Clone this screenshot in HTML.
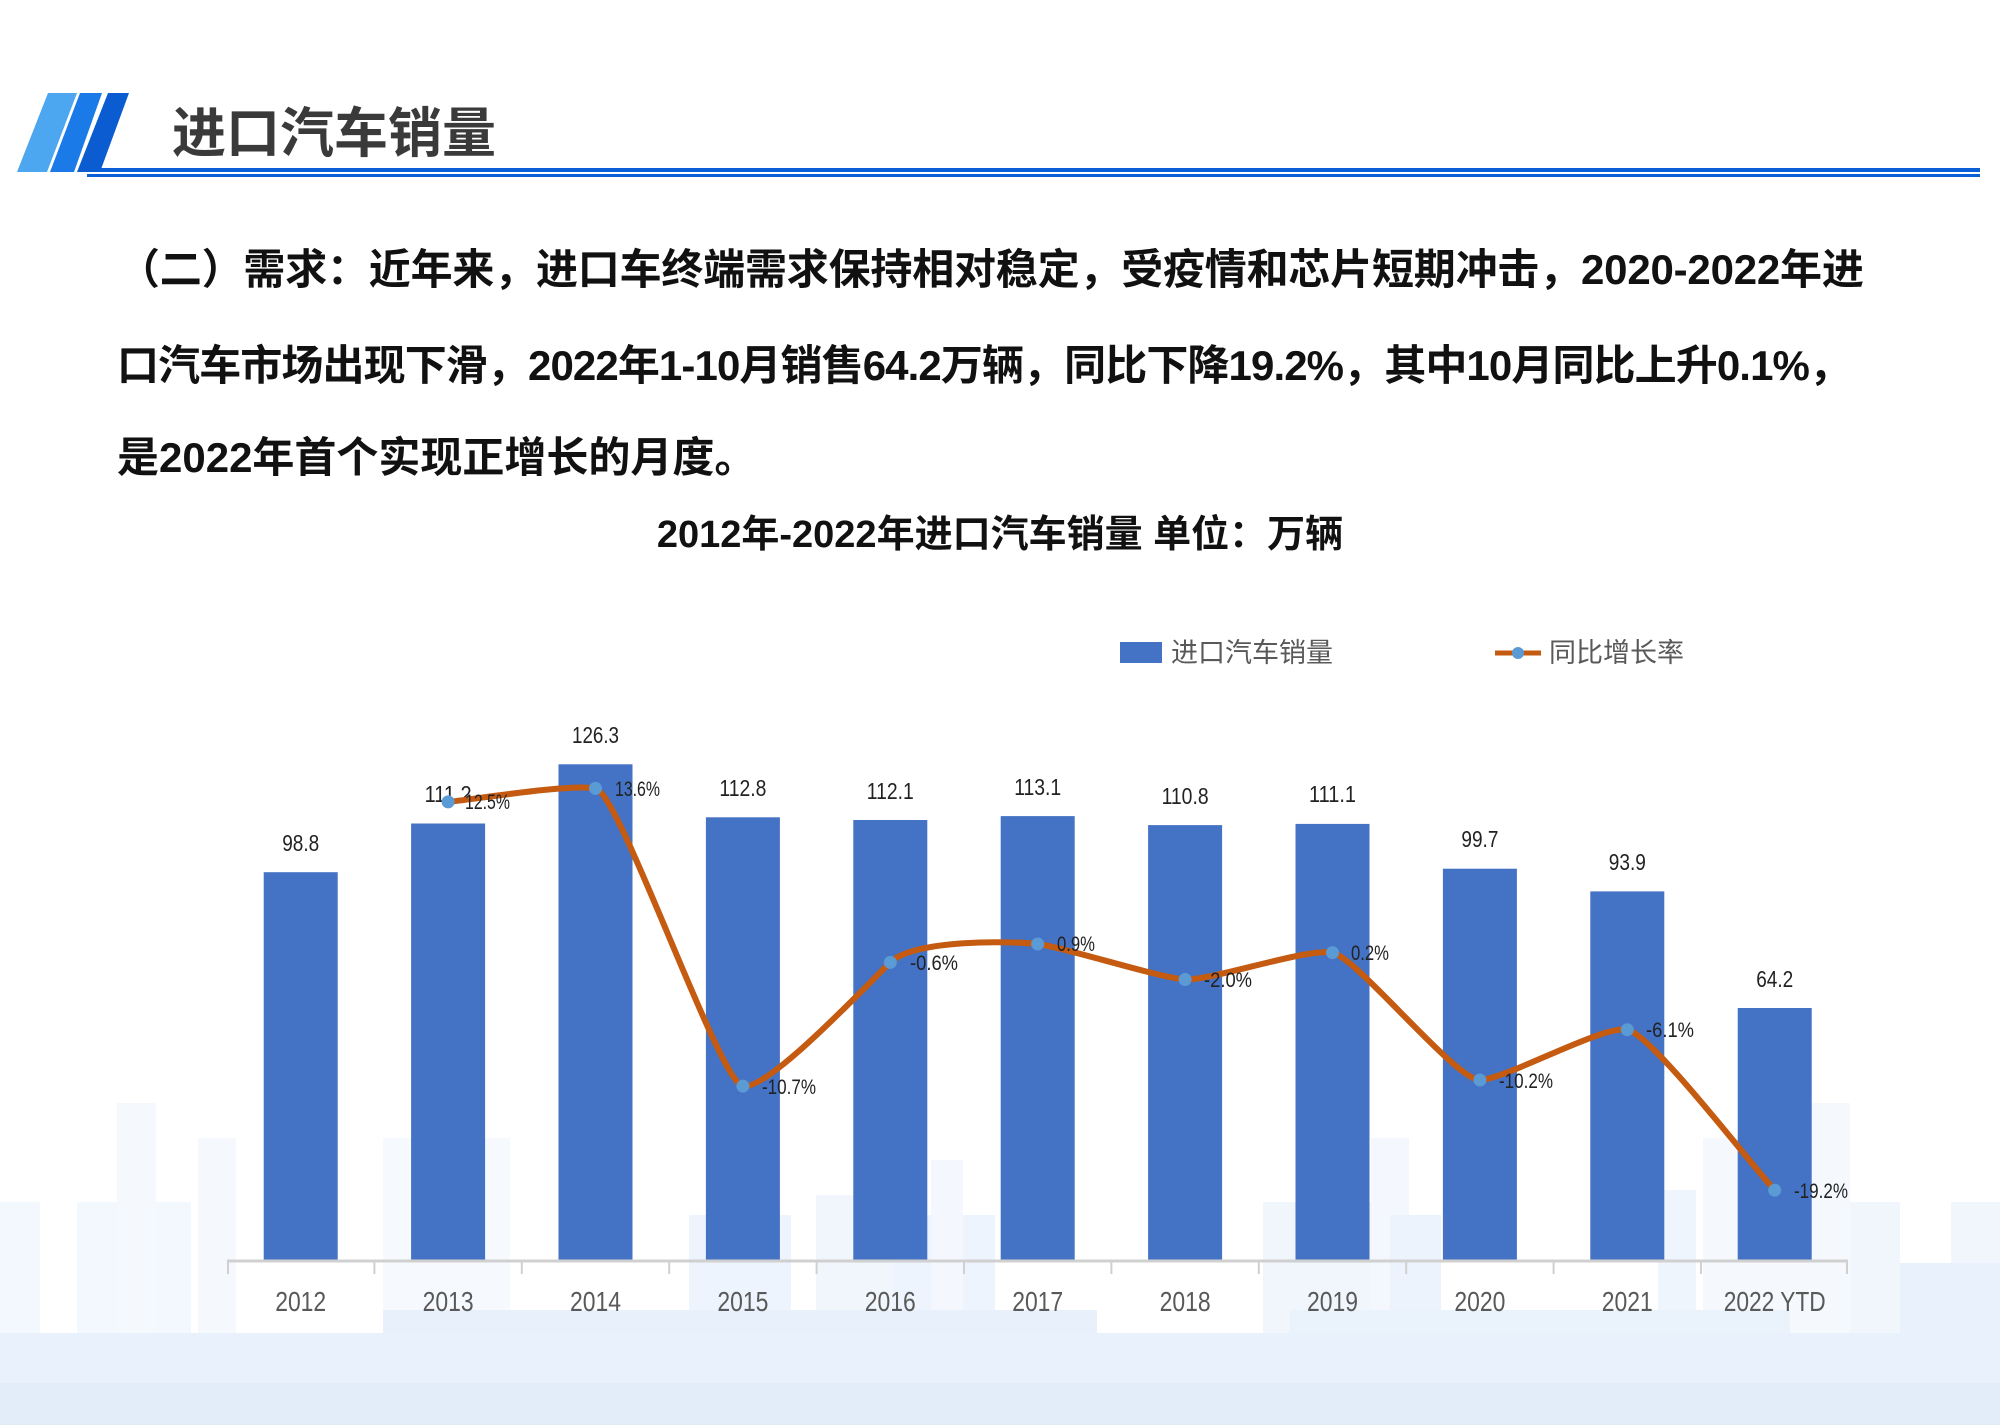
<!DOCTYPE html>
<html><head><meta charset="utf-8"><style>
html,body{margin:0;padding:0;background:#fff;}
body{width:2000px;height:1425px;position:relative;overflow:hidden;}
.p{position:absolute;left:0;white-space:nowrap;font-family:"Liberation Sans","Noto Sans CJK SC",sans-serif;font-weight:700;font-size:42px;color:#111;}
</style></head><body>
<svg width="2000" height="1425" style="position:absolute;left:0;top:0" xmlns="http://www.w3.org/2000/svg">
<g>
<rect x="0" y="1202" width="40" height="223" fill="#f3f8fe"/>
<rect x="77" y="1202" width="114" height="223" fill="#f3f8fe"/>
<rect x="117" y="1103" width="39" height="322" fill="#f5f9fe"/>
<rect x="198" y="1138" width="38" height="287" fill="#f5f9fe"/>
<rect x="383" y="1138" width="127" height="287" fill="#f6faff"/>
<rect x="689" y="1215" width="102" height="210" fill="#edf4fd"/>
<rect x="816" y="1195" width="77" height="230" fill="#f1f6fd"/>
<rect x="893" y="1215" width="102" height="210" fill="#edf4fd"/>
<rect x="931" y="1160" width="32" height="265" fill="#f4f8fe"/>
<rect x="1263" y="1202" width="146" height="223" fill="#f1f6fd"/>
<rect x="1371" y="1138" width="38" height="287" fill="#f4f8fe"/>
<rect x="1390" y="1215" width="51" height="210" fill="#ecf3fd"/>
<rect x="1658" y="1190" width="38" height="235" fill="#eef5fd"/>
<rect x="1703" y="1138" width="147" height="287" fill="#f5f9fe"/>
<rect x="1811" y="1103" width="39" height="322" fill="#f5f9fe"/>
<rect x="1850" y="1202" width="50" height="223" fill="#f1f6fd"/>
<rect x="1951" y="1202" width="49" height="223" fill="#f1f6fd"/>
<rect x="1900" y="1263" width="100" height="162" fill="#e9f1fc"/>
<rect x="383" y="1310" width="714" height="115" fill="#e8f0fc"/>
<rect x="1290" y="1310" width="500" height="115" fill="#eaf2fc"/>
<rect x="0" y="1333" width="2000" height="92" fill="#e9f1fc"/>
<rect x="0" y="1383" width="2000" height="42" fill="#e3edfa"/>
</g>
<polygon points="17,172 47,172 77,93 48,93" fill="#4da6f0"/>
<polygon points="50,172 74,172 102,93 80,93" fill="#1a7ae8"/>
<polygon points="77,172 100,172 129,93 108,93" fill="#0a5cd0"/>
<rect x="98" y="168" width="1882" height="4" fill="#0b5ed7"/>
<rect x="87" y="174" width="1893" height="3" fill="#0b5ed7"/>
<text x="172" y="152" font-family="Liberation Sans,Noto Sans CJK SC,sans-serif" font-weight="700" font-size="54" fill="#3a3a3a">进口汽车销量</text>
<text x="1000" y="547" text-anchor="middle" font-family="Liberation Sans,Noto Sans CJK SC,sans-serif" font-weight="700" font-size="38" fill="#111">2012年-2022年进口汽车销量  单位：万辆</text>
<rect x="1120" y="642" width="42" height="21" fill="#4472c4"/>
<text x="1171" y="662" font-family="Liberation Sans,Noto Sans CJK SC,sans-serif" font-size="27" fill="#595959">进口汽车销量</text>
<line x1="1495" y1="653" x2="1541" y2="653" stroke="#c55a11" stroke-width="5"/>
<circle cx="1518" cy="653" r="6" fill="#5b9bd5"/>
<text x="1549" y="662" font-family="Liberation Sans,Noto Sans CJK SC,sans-serif" font-size="27" fill="#595959">同比增长率</text>
<g fill="#4472c4">
<rect x="263.7" y="872.2" width="74" height="387.8"/>
<rect x="411.1" y="823.5" width="74" height="436.5"/>
<rect x="558.5" y="764.3" width="74" height="495.7"/>
<rect x="705.9" y="817.3" width="74" height="442.7"/>
<rect x="853.3" y="820.0" width="74" height="440.0"/>
<rect x="1000.7" y="816.1" width="74" height="443.9"/>
<rect x="1148.1" y="825.1" width="74" height="434.9"/>
<rect x="1295.5" y="823.9" width="74" height="436.1"/>
<rect x="1442.9" y="868.7" width="74" height="391.3"/>
<rect x="1590.3" y="891.4" width="74" height="368.6"/>
<rect x="1737.7" y="1008.0" width="74" height="252.0"/>
</g>
<line x1="227" y1="1261" x2="1848" y2="1261" stroke="#d0d0d0" stroke-width="3"/>
<g stroke="#d0d0d0" stroke-width="2">
<line x1="228" y1="1261" x2="228" y2="1274"/><line x1="374.4" y1="1261" x2="374.4" y2="1274"/><line x1="521.8" y1="1261" x2="521.8" y2="1274"/><line x1="669.2" y1="1261" x2="669.2" y2="1274"/><line x1="816.6" y1="1261" x2="816.6" y2="1274"/><line x1="964" y1="1261" x2="964" y2="1274"/><line x1="1111.4" y1="1261" x2="1111.4" y2="1274"/><line x1="1258.8" y1="1261" x2="1258.8" y2="1274"/><line x1="1406.2" y1="1261" x2="1406.2" y2="1274"/><line x1="1553.6" y1="1261" x2="1553.6" y2="1274"/><line x1="1701" y1="1261" x2="1701" y2="1274"/><line x1="1847" y1="1261" x2="1847" y2="1274"/>
</g>
<g font-family="Liberation Sans,sans-serif" font-size="28" fill="#595959" text-anchor="middle">
<text x="300.7" y="1311" textLength="51" lengthAdjust="spacingAndGlyphs">2012</text>
<text x="448.1" y="1311" textLength="51" lengthAdjust="spacingAndGlyphs">2013</text>
<text x="595.5" y="1311" textLength="51" lengthAdjust="spacingAndGlyphs">2014</text>
<text x="742.9" y="1311" textLength="51" lengthAdjust="spacingAndGlyphs">2015</text>
<text x="890.3" y="1311" textLength="51" lengthAdjust="spacingAndGlyphs">2016</text>
<text x="1037.7" y="1311" textLength="51" lengthAdjust="spacingAndGlyphs">2017</text>
<text x="1185.1" y="1311" textLength="51" lengthAdjust="spacingAndGlyphs">2018</text>
<text x="1332.5" y="1311" textLength="51" lengthAdjust="spacingAndGlyphs">2019</text>
<text x="1479.9" y="1311" textLength="51" lengthAdjust="spacingAndGlyphs">2020</text>
<text x="1627.3" y="1311" textLength="51" lengthAdjust="spacingAndGlyphs">2021</text>
<text x="1774.7" y="1311" textLength="102" lengthAdjust="spacingAndGlyphs">2022 YTD</text>
</g>
<g font-family="Liberation Sans,sans-serif" font-size="23" fill="#222" text-anchor="middle">
<text x="300.7" y="851" textLength="37" lengthAdjust="spacingAndGlyphs">98.8</text>
<text x="448.1" y="802" textLength="47" lengthAdjust="spacingAndGlyphs">111.2</text>
<text x="595.5" y="743" textLength="47" lengthAdjust="spacingAndGlyphs">126.3</text>
<text x="742.9" y="796" textLength="47" lengthAdjust="spacingAndGlyphs">112.8</text>
<text x="890.3" y="799" textLength="47" lengthAdjust="spacingAndGlyphs">112.1</text>
<text x="1037.7" y="795" textLength="47" lengthAdjust="spacingAndGlyphs">113.1</text>
<text x="1185.1" y="804" textLength="47" lengthAdjust="spacingAndGlyphs">110.8</text>
<text x="1332.5" y="802" textLength="47" lengthAdjust="spacingAndGlyphs">111.1</text>
<text x="1479.9" y="847" textLength="37" lengthAdjust="spacingAndGlyphs">99.7</text>
<text x="1627.3" y="870" textLength="37" lengthAdjust="spacingAndGlyphs">93.9</text>
<text x="1774.7" y="987" textLength="37" lengthAdjust="spacingAndGlyphs">64.2</text>
</g>
<path d="M448.1,801.9 C472.7,799.65 570.9,783.4 595.5,788.4 C620.1,793.4 718.3,1081.1 742.9,1086.1 C767.5,1091.1 865.7,986.08 890.3,962.4 C914.9,938.72 1013.1,941.15 1037.7,944.0 C1062.3,946.85 1160.5,978.07 1185.1,979.5 C1209.7,980.93 1307.9,947.6 1332.5,952.6 C1357.1,957.6 1455.3,1080 1479.9,1080 C1504.5,1080 1602.7,1024.7 1627.3,1029.7 C1651.9,1034.7 1750.1,1163.45 1774.7,1190.2" fill="none" stroke="#c55a11" stroke-width="6" stroke-linecap="round"/>
<g fill="#5b9bd5">
<circle cx="448.1" cy="801.9" r="6.5"/><circle cx="595.5" cy="788.4" r="6.5"/><circle cx="742.9" cy="1086.1" r="6.5"/><circle cx="890.3" cy="962.4" r="6.5"/><circle cx="1037.7" cy="944" r="6.5"/><circle cx="1185.1" cy="979.5" r="6.5"/><circle cx="1332.5" cy="952.6" r="6.5"/><circle cx="1479.9" cy="1080" r="6.5"/><circle cx="1627.3" cy="1029.7" r="6.5"/><circle cx="1774.7" cy="1190.2" r="6.5"/>
</g>
<g font-family="Liberation Sans,sans-serif" font-size="21" fill="#222">
<text x="465" y="809" textLength="45" lengthAdjust="spacingAndGlyphs">12.5%</text>
<text x="615" y="796" textLength="45" lengthAdjust="spacingAndGlyphs">13.6%</text>
<text x="762" y="1094" textLength="54" lengthAdjust="spacingAndGlyphs">-10.7%</text>
<text x="910" y="970" textLength="48" lengthAdjust="spacingAndGlyphs">-0.6%</text>
<text x="1057" y="951" textLength="38" lengthAdjust="spacingAndGlyphs">0.9%</text>
<text x="1204" y="987" textLength="48" lengthAdjust="spacingAndGlyphs">-2.0%</text>
<text x="1351" y="960" textLength="38" lengthAdjust="spacingAndGlyphs">0.2%</text>
<text x="1499" y="1088" textLength="54" lengthAdjust="spacingAndGlyphs">-10.2%</text>
<text x="1646" y="1037" textLength="48" lengthAdjust="spacingAndGlyphs">-6.1%</text>
<text x="1794" y="1198" textLength="54" lengthAdjust="spacingAndGlyphs">-19.2%</text>
</g>
</svg>
<div class="p" style="left:118px;top:236px;letter-spacing:-0.2px;">（二）需求：近年来，进口车终端需求保持相对稳定，受疫情和芯片短期冲击，2020-2022年进</div>
<div class="p" style="left:117px;top:332px;letter-spacing:-0.9px;">口汽车市场出现下滑，2022年1-10月销售64.2万辆，同比下降19.2%，其中10月同比上升0.1%，</div>
<div class="p" style="left:117px;top:424px;">是2022年首个实现正增长的月度。</div>
</body></html>
